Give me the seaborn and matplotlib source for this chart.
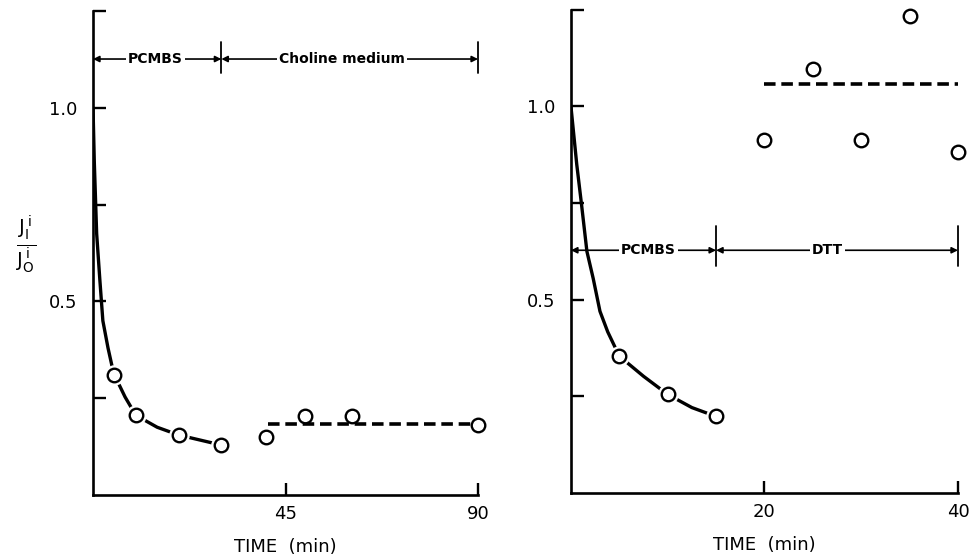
import seaborn as sns
import matplotlib.pyplot as plt
import pandas as pd

# left panel: PCMBS then choline medium
left_curve_x = [0, 0.3, 0.85, 1.6, 2.3, 3.5, 4.4, 5, 7.5, 10, 15, 20, 25, 30]
left_curve_y = [1.0, 0.86, 0.675, 0.555, 0.45, 0.38, 0.335, 0.31, 0.253, 0.206, 0.175, 0.155, 0.142, 0.129]
left_pts_x = [5, 10, 20, 30, 40.5, 49.5, 60.5, 90]
left_pts_y = [0.309, 0.206, 0.155, 0.129, 0.149, 0.204, 0.204, 0.180]
left_dash_x = [41, 90]
left_dash_y = [0.183, 0.183]

# right panel: PCMBS then DTT
right_curve_x = [0, 0.6, 1.1, 1.65, 2.3, 3.0, 3.8, 5, 7.5, 10, 12.5, 15]
right_curve_y = [1.0, 0.85, 0.745, 0.625, 0.555, 0.47, 0.417, 0.354, 0.302, 0.255, 0.221, 0.198]
right_pts_x = [5, 10, 15, 20, 25, 30, 35, 40]
right_pts_y = [0.354, 0.255, 0.198, 0.914, 1.096, 0.914, 1.234, 0.883]
right_dash_x = [20, 40]
right_dash_y = [1.057, 1.057]

sns.set_style("ticks")
plt.rcParams['font.family'] = ['DejaVu Sans']
for key in ["text.color", "axes.labelcolor", "xtick.color", "ytick.color", "axes.edgecolor"]:
    plt.rcParams[key] = "black"

fig = plt.figure(figsize=(9.71, 5.56), dpi=100)
ax_l = fig.add_axes([0.0958, 0.1097, 0.3965, 0.8705])
ax_r = fig.add_axes([0.588, 0.1133, 0.3986, 0.869])


def draw_panel(ax, cx, cy, px, py, dx, dy):
    sns.lineplot(x=cx, y=cy, ax=ax, color="black", linewidth=2.4, sort=False, estimator=None)
    sns.lineplot(x=dx, y=dy, ax=ax, color="black", linewidth=2.6, linestyle=(0, (3.2, 1.6)),
                 sort=False, estimator=None)
    # white halo so the solid curve breaks around its circles
    on_curve = [i for i, x in enumerate(px) if x <= max(cx)]
    ax.scatter([px[i] for i in on_curve], [py[i] for i in on_curve], s=190, color="white",
               zorder=3, clip_on=False)
    sns.scatterplot(x=px, y=py, ax=ax, s=95, facecolor="white", edgecolor="black",
                    linewidth=1.7, zorder=4, clip_on=False)


def bracket(ax, x0, x1, y, label, tx, bar_lo, bar_hi, fs=10):
    ax.annotate("", xy=(x0, y), xytext=(x1, y),
                arrowprops=dict(arrowstyle="<|-|>", color="black", lw=1.2,
                                mutation_scale=9, shrinkA=0, shrinkB=0))
    ax.text(tx, y, label, ha="center", va="center", fontsize=fs, fontweight="bold",
            bbox=dict(facecolor="white", edgecolor="none", pad=1.5), zorder=5)
    ax.plot([x1, x1], [bar_lo, bar_hi], color="black", lw=1.3, clip_on=False)


draw_panel(ax_l, left_curve_x, left_curve_y, left_pts_x, left_pts_y, left_dash_x, left_dash_y)
draw_panel(ax_r, right_curve_x, right_curve_y, right_pts_x, right_pts_y, right_dash_x, right_dash_y)

bracket(ax_l, 0, 30, 1.126, "PCMBS", 14.5, 1.09, 1.17)
bracket(ax_l, 30, 90, 1.126, "Choline medium", 58.3, 1.09, 1.17)
bracket(ax_r, 0, 15, 0.628, "PCMBS", 8.0, 0.586, 0.69)
bracket(ax_r, 15, 40, 0.628, "DTT", 26.5, 0.586, 0.69)

yticks = [0.25, 0.5, 0.75, 1.0, 1.25]
ylabels = ["", "0.5", "", "1.0", ""]
for ax, xmax, xt in [(ax_l, 90, [45, 90]), (ax_r, 40, [20, 40])]:
    ax.set_xlim(0, xmax)
    ax.set_ylim(0, 1.25)
    ax.set_xticks(xt)
    ax.set_xticklabels([str(v) for v in xt])
    ax.set_yticks(yticks)
    ax.set_yticklabels(ylabels)
    ax.tick_params(direction="in", length=9, width=1.7, labelsize=13, pad=7)
    ax.tick_params(axis="y", pad=11)
    sns.despine(ax=ax)
    for s in ["left", "bottom"]:
        ax.spines[s].set_linewidth(1.9)
    ax.set_xlabel("TIME  (min)", fontsize=13, labelpad=11)
    ax.set_ylabel("")

fig.text(0.027, 0.56, r"$\frac{\mathrm{J}_\mathrm{I}^{\,\mathrm{i}}}{\mathrm{J}_\mathrm{O}^{\,\mathrm{i}}}$",
         fontsize=20, ha="center", va="center")

fig.savefig("out.png", dpi=100)
